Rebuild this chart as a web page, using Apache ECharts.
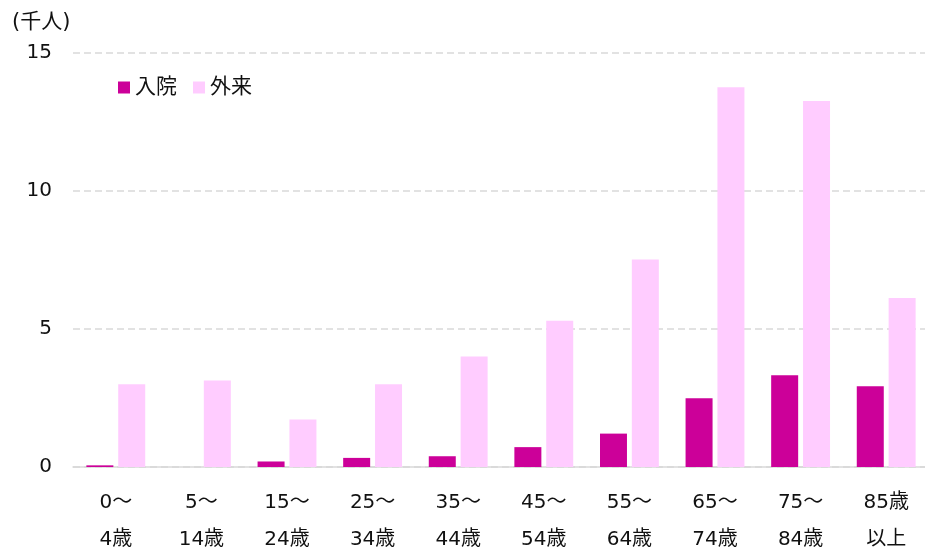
<!DOCTYPE html>
<html>
<head>
<meta charset="utf-8">
<script src="https://cdn.jsdelivr.net/npm/echarts@6/dist/echarts.min.js"></script>
<style>
    html, body { margin: 0; padding: 0; background: #fff; }
    #chart { width: 925px; height: 547px; }
</style>
</head>
<body>
<div id="chart"></div>
<script>
    // 年齢階級
    var categories = ['0～\n4歳', '5～\n14歳', '15～\n24歳', '25～\n34歳', '35～\n44歳',
        '45～\n54歳', '55～\n64歳', '65～\n74歳', '75～\n84歳', '85歳\n以上'];
    // 千人
    var inpatient = [0.06, 0, 0.2, 0.33, 0.39, 0.72, 1.21, 2.49, 3.32, 2.93];
    var outpatient = [3.0, 3.13, 1.72, 3.0, 4.0, 5.3, 7.52, 13.76, 13.26, 6.12];
    var seriesNames = ['入院', '外来'];
    var unitLabel = '(千人)';

    var font = '"DejaVu Sans", "Noto Sans CJK JP", sans-serif';

    var chart = echarts.init(document.getElementById('chart'));
    chart.setOption({
        animation: false,
        color: ['#cc0099', '#ffccff'],
        textStyle: {fontFamily: font},
        title: {
            text: unitLabel,
            left: 7,
            top: 7,
            textStyle: {fontSize: 21, fontWeight: 'normal', color: '#111', fontFamily: font}
        },
        legend: {
            data: seriesNames,
            left: 113,
            top: 72,
            icon: 'rect',
            itemWidth: 12,
            itemHeight: 12,
            itemGap: 16,
            textStyle: {fontSize: 21, color: '#111', fontFamily: font}
        },
        grid: {
            left: 73,
            right: -4,
            top: 53,
            bottom: 80,
            outerBoundsMode: 'none'
        },
        xAxis: {
            type: 'category',
            data: categories,
            axisTick: {show: false},
            axisLine: {lineStyle: {color: '#d9d9d9', width: 1.5}},
            axisLabel: {
                fontSize: 20,
                color: '#111',
                lineHeight: 37,
                margin: 17,
                fontFamily: font
            }
        },
        yAxis: {
            type: 'value',
            min: 0,
            max: 15,
            interval: 5,
            axisLine: {show: false},
            axisTick: {show: false},
            axisLabel: {fontSize: 20, color: '#111', margin: 21, fontFamily: font},
            splitLine: {lineStyle: {color: '#d9d9d9', type: [7, 4], width: 1.5}}
        },
        series: [
            {
                name: seriesNames[0],
                type: 'bar',
                data: inpatient,
                barWidth: 27,
                barGap: '18%'
            },
            {
                name: seriesNames[1],
                type: 'bar',
                data: outpatient,
                barWidth: 27
            }
        ]
    });
</script>
</body>
</html>
